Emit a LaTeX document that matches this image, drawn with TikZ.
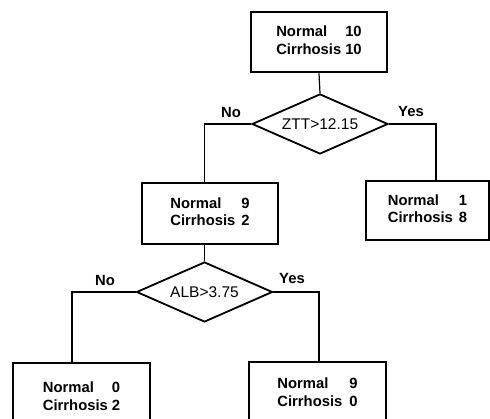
\documentclass[tikz,border=0pt]{standalone}
\usepackage{fontspec}
\setmainfont{Liberation Sans}
\usetikzlibrary{shapes.geometric}
\tikzset{
  leaf/.style={draw, line width=2.7pt, rectangle, inner sep=0pt, font=\fontsize{14.8}{17}\selectfont\bfseries, align=left},
  test/.style={draw, line width=1.8pt, diamond, aspect=2.27, inner sep=0pt, minimum width=136pt, minimum height=60pt, font=\fontsize{15.5}{17}\selectfont},
  lab/.style={font=\fontsize{14.8}{17}\selectfont\bfseries, inner sep=0pt},
  link/.style={line width=1.2pt}
}
\begin{document}
\begin{tikzpicture}[x=1pt,y=-1pt]
\clip (0,0) rectangle (490,419);
\node[leaf, minimum width=136pt, minimum height=60pt] (top) at (319,42)
  {\begin{tabular}{@{}l@{\hspace{4pt}}r@{}}Normal&10\\[0.5pt]Cirrhosis&10\end{tabular}};
\node[test] (d1) at (320,124) {ZTT>12.15};
\node[leaf, minimum width=123pt, minimum height=59pt] (rb) at (427.5,210.5)
  {\begin{tabular}{@{}l@{\hspace{6pt}}r@{}}Normal&1\\[0.5pt]Cirrhosis&8\end{tabular}};
\node[leaf, minimum width=136pt, minimum height=61pt] (mid) at (210,213.5)
  {\begin{tabular}{@{}l@{\hspace{6pt}}r@{}}Normal&9\\[0.5pt]Cirrhosis&2\end{tabular}};
\node[test] (d2) at (204.5,292) {ALB>3.75};
\node[leaf, minimum width=137pt, minimum height=70pt] (bl) at (81.5,398)
  {\begin{tabular}{@{}l@{\hspace{4pt}}r@{}}Normal&0\\[0.5pt]Cirrhosis&2\end{tabular}};
\node[leaf, minimum width=137pt, minimum height=64pt] (br) at (317.5,394)
  {\begin{tabular}{@{}l@{\hspace{7pt}}r@{}}Normal&9\\[0.5pt]Cirrhosis&0\end{tabular}};
\draw[link] (top.south) -- (d1.north);
\draw[link] (d1.west) -| (d2.north |- mid.north);
\draw[link] (d1.east) -| ([xshift=8.5pt]rb.north);
\draw[link] (d2.north |- mid.south) -- (d2.north);
\draw[link] (d2.west) -| ([xshift=-9.5pt]bl.north);
\draw[link] (d2.east) -| ([xshift=1.5pt]br.north);
\node[lab] (no1) at (231,112.5) {No};
\node[lab] (yes1) at (411,111.5) {Yes};
\node[lab] (no2) at (105,280) {No};
\node[lab] (yes2) at (292,278) {Yes};
\end{tikzpicture}
\end{document}
